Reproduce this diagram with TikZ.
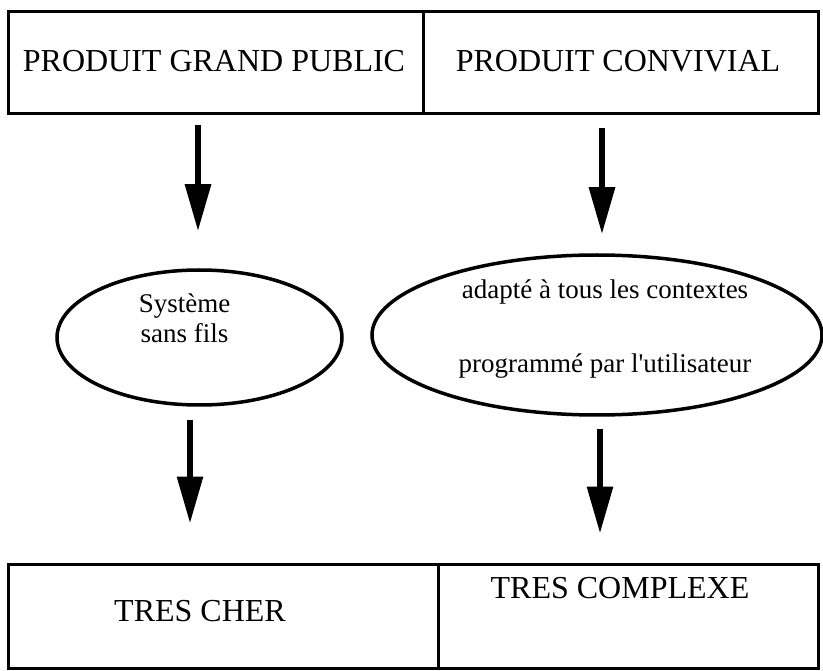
\documentclass[tikz,border=0pt]{standalone}
\usepackage{fontspec}
\setmainfont{Liberation Serif}
\usetikzlibrary{arrows.meta,shapes.geometric,calc}
\begin{document}
\begin{tikzpicture}[x=1pt,y=-1pt,
  box/.style={draw,line width=3pt,rectangle,inner sep=0pt},
  oval/.style={draw,line width=3.5pt,ellipse,inner sep=0pt},
  caps/.style={font=\fontsize{32}{38}\selectfont,inner sep=0pt,anchor=base},
  small/.style={font=\fontsize{27}{32}\selectfont,inner sep=0pt,anchor=base},
  fat/.style={line width=6pt,-{Triangle[width=25pt,length=47pt]}}]
\useasboundingbox (0,0) rectangle (823,671);

% top row of boxes
\node[box,minimum width=415pt,minimum height=102pt] (tl) at (215.5,63) {};
\node[box,minimum width=395pt,minimum height=102pt] (tr) at (620.5,63) {};
\node[caps] (tlt) at ($(tl.center)+(-1.5,9)$) {PRODUIT GRAND PUBLIC};
\node[caps] (trt) at ($(tr.center)+(-2.5,9)$) {PRODUIT CONVIVIAL};

% middle ellipses
\node[oval,minimum width=285pt,minimum height=135pt] (e1) at (199.5,337.5) {};
\node[oval,minimum width=450pt,minimum height=160pt] (e2) at (597,335) {};
\node[small] (e1a) at ($(e1.center)+(-15,-25)$) {Système};
\node[small] (e1b) at ($(e1.center)+(-15,5)$) {sans fils};
\node[small] (e2a) at ($(e2.center)+(8,-36)$) {adapté à tous les contextes};
\node[small] (e2b) at ($(e2.center)+(8,38)$) {programmé par l\textquotesingle utilisateur};

% bottom row of boxes
\node[box,minimum width=430pt,minimum height=104pt] (bl) at (223,616) {};
\node[box,minimum width=380pt,minimum height=104pt] (br) at (628,616) {};
\node[caps] (blt) at ($(bl.center)+(-23,5)$) {TRES CHER};
\node[caps] (brt) at ($(br.center)+(-8,-18)$) {TRES COMPLEXE};

% arrows
\coordinate (a1) at ($(e1.north)+(-1.5,0)$);
\coordinate (a2) at ($(e2.north)+(5,0)$);
\coordinate (a3) at ($(e1.south)+(-9.5,0)$);
\coordinate (a4) at ($(e2.south)+(3,0)$);
\draw[fat,shorten <=10pt,shorten >=37pt] (a1 |- tl.south) -- (a1);
\draw[fat,shorten <=13pt,shorten >=19pt] (a2 |- tr.south) -- (a2);
\draw[fat,shorten <=13pt,shorten >=39pt] (a3) -- (a3 |- bl.north);
\draw[fat,shorten <=12pt,shorten >=29pt] (a4) -- (a4 |- br.north);
\end{tikzpicture}
\end{document}
